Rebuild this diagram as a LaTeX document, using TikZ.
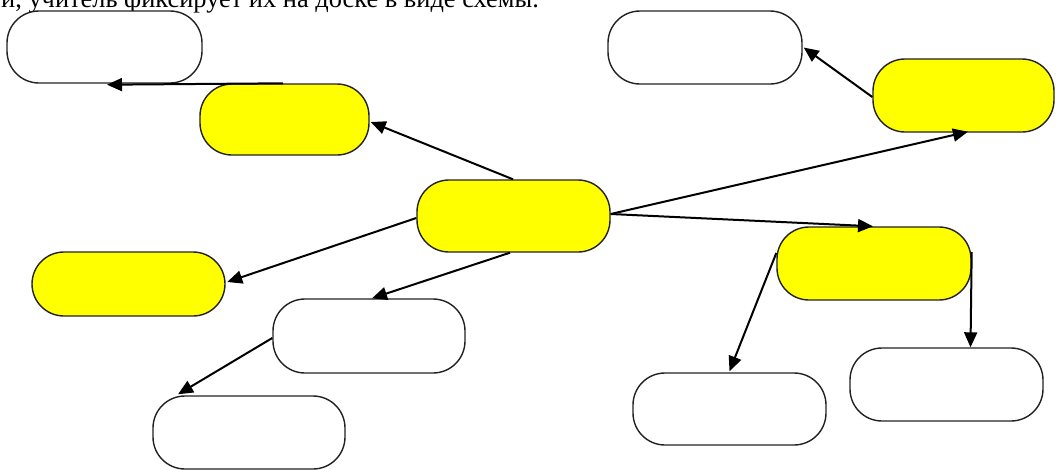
\documentclass[tikz,border=0pt]{standalone}
\usepackage{fontspec}
\setmainfont{Liberation Serif}
\usetikzlibrary{arrows.meta}
\definecolor{boxyellow}{HTML}{FFFF00}
\definecolor{boxline}{HTML}{222222}
\tikzset{
  stadium/.style={draw=boxline, line width=1.4pt, rounded corners=32pt, inner sep=0pt},
  whitebox/.style={stadium, fill=white},
  yellowbox/.style={stadium, fill=boxyellow},
  conn/.style={draw=black, line width=2pt, -{Triangle[length=15pt,width=13pt]}}
}
\begin{document}
\begin{tikzpicture}[x=1pt,y=-1pt]
\useasboundingbox (0,0) rectangle (1058,469);
\clip (0,0) rectangle (1058,469);
\fill[white] (0,0) rectangle (1058,469);
\node[anchor=base west, inner sep=0pt, font=\fontsize{26.4}{30}\selectfont] (txt) at (1,7.5) {и, учитель фиксирует их на доске в виде схемы.};
% nodes
\node[whitebox, minimum width=195pt, minimum height=72pt] (tl) at (104.5,47) {};
\node[yellowbox, minimum width=169pt, minimum height=71pt] (l1) at (284.5,119.5) {};
\node[yellowbox, minimum width=193pt, minimum height=72pt] (c) at (513.5,216) {};
\node[yellowbox, minimum width=193pt, minimum height=64pt] (l2) at (128.5,284) {};
\node[whitebox, minimum width=192pt, minimum height=74pt] (mid) at (369,336) {};
\node[whitebox, minimum width=192pt, minimum height=73pt] (bl) at (249,432.5) {};
\node[whitebox, minimum width=194pt, minimum height=73pt] (tr) at (705,47.5) {};
\node[yellowbox, minimum width=181pt, minimum height=73pt] (r1) at (963.5,95.5) {};
\node[yellowbox, minimum width=194pt, minimum height=73pt] (r2) at (874,263.5) {};
\node[whitebox, minimum width=193pt, minimum height=72pt] (rbl) at (729.5,409) {};
\node[whitebox, minimum width=193pt, minimum height=73pt] (rbr) at (946.5,384.5) {};
% connectors
\draw[conn] ([xshift=-1.5pt]l1.north) -- ([xshift=2.5pt,yshift=-1pt]tl.south);
\draw[conn] ([xshift=-0.5pt]c.north) -- ([xshift=1pt,yshift=-2.5pt]l1.east);
\draw[conn] ([yshift=-2pt]c.west) -- ([xshift=1.5pt,yshift=2pt]l2.east);
\draw[conn] ([xshift=-3.5pt]c.south) -- ([xshift=3pt]mid.north);
\draw[conn] ([yshift=-2pt]mid.west) -- ([xshift=-71pt,yshift=1pt]bl.north);
\draw[conn] ([yshift=2pt]c.east) -- ([xshift=4.5pt,yshift=1pt]r1.south);
\draw[conn] ([yshift=2pt]c.east) -- ([xshift=-1pt]r2.north);
\draw[conn] ([yshift=10.5pt]r2.west) -- ([yshift=1pt]rbl.north);
\draw[conn] ([yshift=11.5pt]r2.east) -- ([xshift=24pt]rbr.north);
\draw[conn] ([yshift=-1.5pt]r1.west) -- ([xshift=1pt]tr.east);
\end{tikzpicture}
\end{document}
